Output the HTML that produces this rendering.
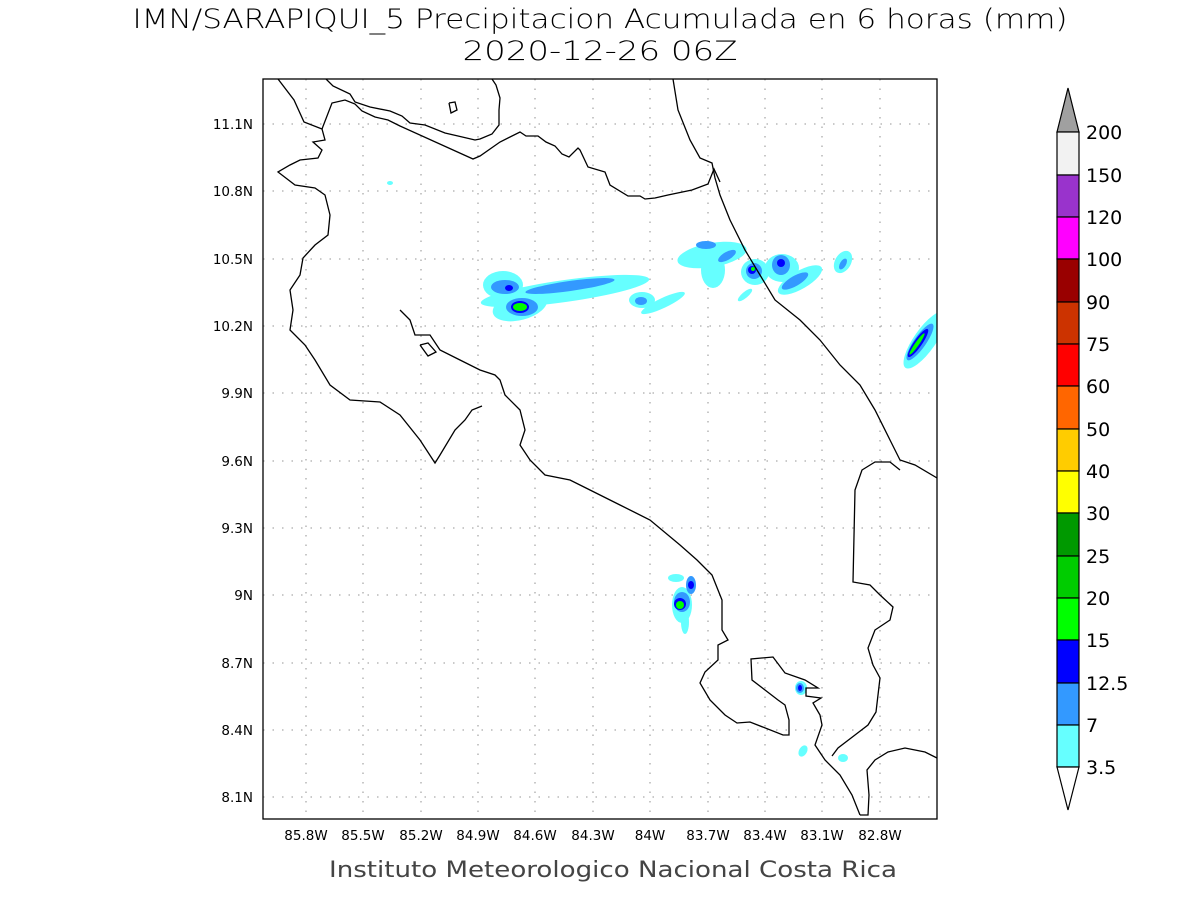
<!DOCTYPE html>
<html><head><meta charset="utf-8"><style>
html,body{margin:0;padding:0;background:#fff;}
svg text{font-family:"DejaVu Sans","Liberation Sans",sans-serif;}
</style></head><body>
<svg width="1200" height="900" viewBox="0 0 1200 900" xmlns="http://www.w3.org/2000/svg">
<defs><clipPath id="c"><rect x="263" y="79" width="674" height="740"/></clipPath></defs>
<rect width="1200" height="900" fill="#fff"/>
<text x="600" y="28" font-size="27" text-anchor="middle" fill="#000" font-weight="300" textLength="935" lengthAdjust="spacingAndGlyphs">IMN/SARAPIQUI_5 Precipitacion Acumulada en 6 horas (mm)</text>
<text x="600" y="60" font-size="27" text-anchor="middle" fill="#000" font-weight="300" textLength="275" lengthAdjust="spacingAndGlyphs">2020-12-26 06Z</text>

<g stroke="#aaa" stroke-width="1.3" stroke-dasharray="1.5,8">
<line x1="263" y1="124" x2="937" y2="124"/><line x1="263" y1="191" x2="937" y2="191"/>
<line x1="263" y1="259" x2="937" y2="259"/><line x1="263" y1="326" x2="937" y2="326"/>
<line x1="263" y1="393" x2="937" y2="393"/><line x1="263" y1="461" x2="937" y2="461"/>
<line x1="263" y1="528" x2="937" y2="528"/><line x1="263" y1="595" x2="937" y2="595"/>
<line x1="263" y1="663" x2="937" y2="663"/><line x1="263" y1="730" x2="937" y2="730"/>
<line x1="263" y1="797" x2="937" y2="797"/>
<line x1="306" y1="79" x2="306" y2="819"/><line x1="363" y1="79" x2="363" y2="819"/>
<line x1="421" y1="79" x2="421" y2="819"/><line x1="478" y1="79" x2="478" y2="819"/>
<line x1="535" y1="79" x2="535" y2="819"/><line x1="593" y1="79" x2="593" y2="819"/>
<line x1="650" y1="79" x2="650" y2="819"/><line x1="708" y1="79" x2="708" y2="819"/>
<line x1="765" y1="79" x2="765" y2="819"/><line x1="822" y1="79" x2="822" y2="819"/>
<line x1="880" y1="79" x2="880" y2="819"/>
</g>

<g clip-path="url(#c)">
<g fill="#66ffff">
<ellipse cx="565" cy="291" rx="85" ry="11" transform="rotate(-8 565 291)"/>
<ellipse cx="503" cy="285" rx="20" ry="14"/>
<ellipse cx="520" cy="306" rx="28" ry="14" transform="rotate(-15 520 306)"/>
<ellipse cx="642" cy="300" rx="13" ry="8"/>
<ellipse cx="663" cy="303" rx="24" ry="5" transform="rotate(-25 663 303)"/>
<ellipse cx="712" cy="255" rx="35" ry="12" transform="rotate(-10 712 255)"/>
<ellipse cx="713" cy="270" rx="12" ry="18"/>
<ellipse cx="755" cy="272" rx="14" ry="13"/>
<ellipse cx="782" cy="268" rx="17" ry="14"/>
<ellipse cx="800" cy="280" rx="25" ry="9" transform="rotate(-30 800 280)"/>
<ellipse cx="843" cy="262" rx="8" ry="12" transform="rotate(30 843 262)"/>
<ellipse cx="745" cy="295" rx="9" ry="3" transform="rotate(-40 745 295)"/>
<ellipse cx="925" cy="340" rx="11" ry="34" transform="rotate(35 925 340)"/>
<ellipse cx="682" cy="605" rx="10" ry="18"/>
<ellipse cx="685" cy="622" rx="4" ry="12"/>
<ellipse cx="676" cy="578" rx="8" ry="4"/>
<ellipse cx="801" cy="688" rx="6" ry="7"/>
<ellipse cx="803" cy="751" rx="4" ry="6" transform="rotate(30 803 751)"/>
<ellipse cx="843" cy="758" rx="5" ry="4"/>
<ellipse cx="390" cy="183" rx="3" ry="2"/>
</g>
<g fill="#3399ff">
<ellipse cx="505" cy="287" rx="14" ry="7"/>
<ellipse cx="522" cy="307" rx="16" ry="9"/>
<ellipse cx="570" cy="286" rx="45" ry="5" transform="rotate(-8 570 286)"/>
<ellipse cx="641" cy="301" rx="6" ry="4"/>
<ellipse cx="706" cy="245" rx="10" ry="4"/>
<ellipse cx="727" cy="256" rx="10" ry="4" transform="rotate(-30 727 256)"/>
<ellipse cx="754" cy="271" rx="8" ry="8"/>
<ellipse cx="781" cy="265" rx="9" ry="10"/>
<ellipse cx="795" cy="281" rx="15" ry="5" transform="rotate(-30 795 281)"/>
<ellipse cx="843" cy="264" rx="3" ry="6" transform="rotate(30 843 264)"/>
<ellipse cx="920" cy="342" rx="6" ry="22" transform="rotate(35 920 342)"/>
<ellipse cx="682" cy="602" rx="8" ry="10"/>
<ellipse cx="691" cy="585" rx="5" ry="9"/>
<ellipse cx="800" cy="688" rx="4" ry="5"/>
</g>
<g fill="#0000ff">
<ellipse cx="509" cy="288" rx="4" ry="3"/>
<ellipse cx="520" cy="307" rx="9" ry="6"/>
<ellipse cx="752" cy="270" rx="4" ry="4"/>
<ellipse cx="781" cy="263" rx="4" ry="4"/>
<ellipse cx="918" cy="343" rx="4" ry="17" transform="rotate(35 918 343)"/>
<ellipse cx="680" cy="604" rx="6" ry="6"/>
<ellipse cx="691" cy="585" rx="3" ry="4"/>
<ellipse cx="800" cy="688" rx="2" ry="3"/>
</g>
<g fill="#00ff00">
<ellipse cx="520" cy="307" rx="7" ry="4"/>
<ellipse cx="753" cy="269" rx="2" ry="2"/>
<ellipse cx="917" cy="344" rx="2" ry="13" transform="rotate(35 917 344)"/>
<ellipse cx="680" cy="605" rx="4" ry="4"/>
</g>
</g>

<g fill="none" stroke="#000" stroke-width="1.3" clip-path="url(#c)">
<polyline points="278,79 294,100 304,122 322,129 325,140 313,142 322,150 318,158 300,160 290,165 278,172 295,185 315,188 325,195 330,215 328,235 315,245 303,258 300,275 290,290 293,310 290,330 305,345 315,360 330,385 350,400 380,402 400,415 420,440 435,463 440,455 455,430 465,420 472,410 482,406"/>
<polyline points="400,310 410,320 415,335 430,335 440,350 460,360 480,370 495,375 500,380 505,395 520,410 525,430 520,445 530,460 545,475 570,480 590,490 620,505 650,520 680,545 697,560 712,575 722,600 722,630 728,640 718,645 718,660 705,672 700,683 710,700 725,715 737,723 750,722 783,735 789,735 789,720 785,705 778,700 765,690 752,680 751,659 773,657 785,673 805,680 818,688 806,688 806,696 821,698 813,703 820,715 822,725 815,745 825,760 840,775 852,795 860,815"/>
<polyline points="860,815 868,815 869,795 867,770 875,760 888,752 905,748 925,752 937,758"/>
<polyline points="420,345 428,343 436,352 428,356 420,345"/>
<polyline points="449,103 455,102 457,110 451,113 449,103"/>
<polyline points="326,79 333,86 350,94 355,102 370,107 390,111 402,116 410,123 425,125 445,133 458,136 475,140 480,139 492,134 499,125 499,110 500,98 496,85 492,79"/>
<polyline points="322,129 332,103 345,100 355,104 362,111 375,117 388,120 400,126 473,159 480,156 500,142 520,132 526,136 538,136 546,142 555,146 562,154 569,157 578,148 580,150 588,167 605,172 610,185 628,196 640,196 645,199 655,198 668,195 692,190 708,184 714,169 720,182"/>
<polyline points="673,79 678,110 690,140 700,158 712,163 715,178 720,195 730,220 745,250 760,275 775,300 800,320 820,340 840,365 860,385 875,410 890,440 900,460 915,465 937,478"/>
<polyline points="900,470 890,462 875,462 862,470 855,490 853,582 870,585 880,595 893,607 890,620 875,630 868,648 873,665 880,678 876,712 868,725 855,735 838,748 832,756"/>
</g>

<rect x="263" y="79" width="674" height="740" fill="none" stroke="#000" stroke-width="1.3"/>

<g font-size="13.5" fill="#000" text-anchor="end">
<text x="253" y="129">11.1N</text><text x="253" y="196">10.8N</text>
<text x="253" y="264">10.5N</text><text x="253" y="331">10.2N</text>
<text x="253" y="398">9.9N</text><text x="253" y="466">9.6N</text>
<text x="253" y="533">9.3N</text><text x="253" y="600">9N</text>
<text x="253" y="668">8.7N</text><text x="253" y="735">8.4N</text>
<text x="253" y="802">8.1N</text>
</g>
<g font-size="13.5" fill="#000" text-anchor="middle">
<text x="306" y="840">85.8W</text><text x="363" y="840">85.5W</text>
<text x="421" y="840">85.2W</text><text x="478" y="840">84.9W</text>
<text x="535" y="840">84.6W</text><text x="593" y="840">84.3W</text>
<text x="650" y="840">84W</text><text x="708" y="840">83.7W</text>
<text x="765" y="840">83.4W</text><text x="822" y="840">83.1W</text>
<text x="880" y="840">82.8W</text>
</g>
<text x="613" y="877" font-size="22" fill="#444" text-anchor="middle" textLength="568" lengthAdjust="spacingAndGlyphs">Instituto Meteorologico Nacional Costa Rica</text>

<g stroke="#000" stroke-width="1.2">
<polygon points="1057,132 1079,132 1068,88" fill="#a0a0a0"/>
<rect x="1057" y="132" width="22" height="43" fill="#f2f2f2"/>
<rect x="1057" y="175" width="22" height="42" fill="#9933cc"/>
<rect x="1057" y="217" width="22" height="42" fill="#ff00ff"/>
<rect x="1057" y="259" width="22" height="43" fill="#990000"/>
<rect x="1057" y="302" width="22" height="42" fill="#cc3300"/>
<rect x="1057" y="344" width="22" height="42" fill="#ff0000"/>
<rect x="1057" y="386" width="22" height="43" fill="#ff6600"/>
<rect x="1057" y="429" width="22" height="42" fill="#ffcc00"/>
<rect x="1057" y="471" width="22" height="42" fill="#ffff00"/>
<rect x="1057" y="513" width="22" height="43" fill="#009900"/>
<rect x="1057" y="556" width="22" height="42" fill="#00cc00"/>
<rect x="1057" y="598" width="22" height="42" fill="#00ff00"/>
<rect x="1057" y="640" width="22" height="43" fill="#0000ff"/>
<rect x="1057" y="683" width="22" height="42" fill="#3399ff"/>
<rect x="1057" y="725" width="22" height="42" fill="#66ffff"/>
<polygon points="1057,767 1079,767 1068,810" fill="#fff"/>
</g>
<g font-size="19" fill="#000">
<text x="1086" y="139">200</text><text x="1086" y="182">150</text>
<text x="1086" y="224">120</text><text x="1086" y="266">100</text>
<text x="1086" y="309">90</text><text x="1086" y="351">75</text>
<text x="1086" y="393">60</text><text x="1086" y="436">50</text>
<text x="1086" y="478">40</text><text x="1086" y="520">30</text>
<text x="1086" y="563">25</text><text x="1086" y="605">20</text>
<text x="1086" y="647">15</text><text x="1086" y="690">12.5</text>
<text x="1086" y="732">7</text><text x="1086" y="774">3.5</text>
</g>
</svg>
</body></html>
